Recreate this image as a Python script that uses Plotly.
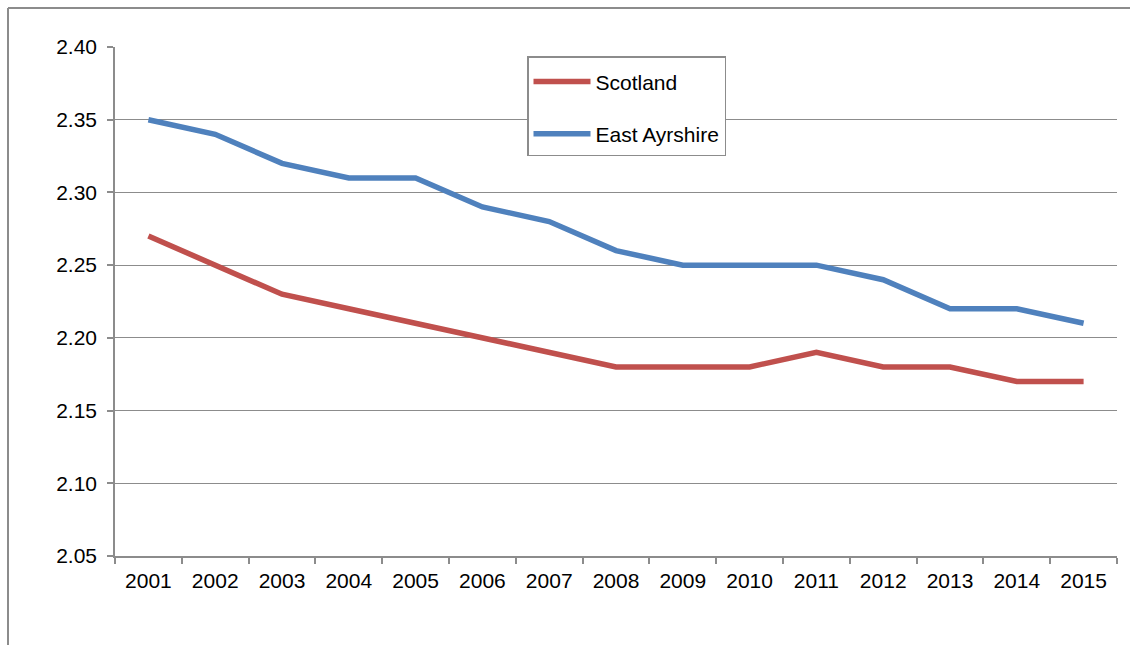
import plotly.graph_objects as go

years = ["2001", "2002", "2003", "2004", "2005", "2006", "2007", "2008",
         "2009", "2010", "2011", "2012", "2013", "2014", "2015"]
scotland = [2.27, 2.25, 2.23, 2.22, 2.21, 2.20, 2.19, 2.18, 2.18, 2.18,
            2.19, 2.18, 2.18, 2.17, 2.17]
east_ayrshire = [2.35, 2.34, 2.32, 2.31, 2.31, 2.29, 2.28, 2.26, 2.25, 2.25,
                 2.25, 2.24, 2.22, 2.22, 2.21]
y_ticks = [2.05, 2.10, 2.15, 2.20, 2.25, 2.30, 2.35, 2.40]

GRAY = "#8c8c8c"
FONT = "Liberation Sans, Arial, sans-serif"

fig = go.Figure()
fig.add_trace(go.Scatter(x=years, y=scotland, name="Scotland", mode="lines",
                         line=dict(color="#C0504D", width=5.5), legendgroup="a"))
fig.add_trace(go.Scatter(x=years, y=east_ayrshire, name="East Ayrshire", mode="lines",
                         line=dict(color="#4F81BD", width=5.5), legendgroup="b"))

W, H = 1130, 645
L, R, T, B = 115, 13, 47, 89
pw, ph = W - L - R, H - T - B

def px_x(x):
    return (x - L) / pw

def px_y(y):
    return (H - B - y) / ph

fig.update_layout(
    width=W, height=H,
    margin=dict(l=L, r=R, t=T, b=B),
    paper_bgcolor="white", plot_bgcolor="white",
    font=dict(family=FONT, size=21, color="black"),
    showlegend=True,
    legend=dict(x=px_x(527), y=px_y(56), xanchor="left", yanchor="top",
                bgcolor="white", bordercolor=GRAY, borderwidth=1.5,
                font=dict(size=21), itemwidth=57, tracegroupgap=22,
                traceorder="grouped", entrywidth=205,
                title=dict(text=" ", font=dict(size=3))),
    xaxis=dict(type="category", range=[-0.5, len(years) - 0.5], tickson="boundaries",
               ticks="outside", ticklen=6,
               tickcolor=GRAY, tickwidth=1.5, showline=True, linecolor=GRAY, linewidth=1.5,
               showgrid=False, ticklabelstandoff=5),
    yaxis=dict(range=[2.05, 2.40], tickvals=y_ticks, tickformat=".2f", ticks="outside",
               ticklen=6, tickcolor=GRAY, tickwidth=1.5, showline=True, linecolor=GRAY,
               linewidth=1.5, showgrid=True, gridcolor=GRAY, gridwidth=1.2,
               zeroline=False, ticklabelstandoff=6),
    shapes=[
        dict(type="line", xref="paper", yref="paper", x0=px_x(8), x1=px_x(8),
             y0=px_y(8), y1=px_y(645), line=dict(color=GRAY, width=2)),
        dict(type="line", xref="paper", yref="paper", x0=px_x(8), x1=px_x(1130),
             y0=px_y(8), y1=px_y(8), line=dict(color=GRAY, width=2)),
    ],
)

fig.write_html("out.html", config={"displayModeBar": False},
               post_script="document.body.style.margin='0';document.body.style.overflow='hidden';")
